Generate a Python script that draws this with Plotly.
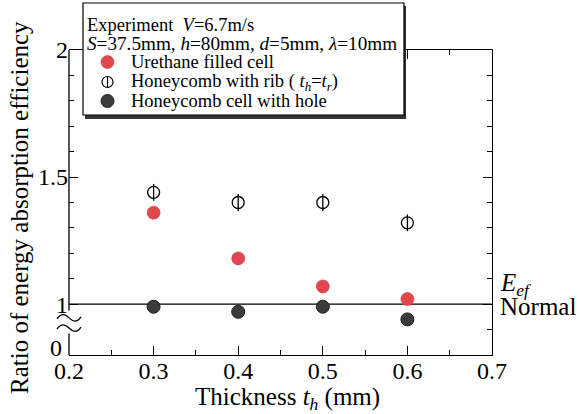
import plotly.graph_objects as go

# ---------------- data ----------------
thickness = [0.3, 0.4, 0.5, 0.6]
urethane = [1.36, 1.18, 1.07, 1.02]
rib = [1.44, 1.40, 1.40, 1.32]
hole = [0.99, 0.97, 0.99, 0.94]

x_ticks = [0.2, 0.3, 0.4, 0.5, 0.6, 0.7]
x_labels = ["0.2", "0.3", "0.4", "0.5", "0.6", "0.7"]
x_minor = [0.25, 0.35, 0.45, 0.55, 0.65]
y_ticks = [1.0, 1.5, 2.0]
y_labels = ["1", "1.5", "2"]
y_minor = [1.1, 1.2, 1.3, 1.4, 1.6, 1.7, 1.8, 1.9]
right_minor = [0.9, 1.1, 1.2, 1.3, 1.4, 1.6, 1.7, 1.8, 1.9]
x_range = [0.2, 0.7]
y_range = [0.8, 2.0]
ref_level = 1.0
break_top = 0.975
break_bottom = 0.885
tilde_levels = [0.946, 0.906]

FONT = "Liberation Serif, Times New Roman, Times, serif"
RED = "#e2474e"
DARK = "#3c3c3c"

# plot area geometry in pixels (for layout-only placement)
L, R, T, B = 69, 492, 50, 355
W, H = 580, 414


def px_x(p):
    return (p - L) / (R - L)


def px_y(p):
    return (B - p) / (B - T)


fig = go.Figure()

fig.add_trace(go.Scatter(
    x=thickness, y=urethane, mode="markers", name="Urethane filled cell",
    marker=dict(symbol="circle", size=13, color=RED, line=dict(width=0.6, color="#c8393f")),
    showlegend=False))
fig.add_trace(go.Scatter(
    x=thickness, y=rib, mode="markers", name="Honeycomb with rib",
    marker=dict(symbol="circle-open", size=12, color="black", line=dict(width=1.3, color="black")),
    showlegend=False))
fig.add_trace(go.Scatter(
    x=thickness, y=rib, mode="markers", name="rib",
    marker=dict(symbol="line-ns-open", size=12, color="black", line=dict(width=1.3, color="black")),
    showlegend=False, hoverinfo="skip"))
fig.add_trace(go.Scatter(
    x=thickness, y=hole, mode="markers", name="Honeycomb cell with hole",
    marker=dict(symbol="circle", size=13, color=DARK, line=dict(width=1, color="#1e1e1e")),
    showlegend=False))
# empty trace to attach the right axis
fig.add_trace(go.Scatter(x=[], y=[], yaxis="y2", showlegend=False, hoverinfo="skip"))

shapes = []
# reference line E_ef
shapes.append(dict(type="line", xref="paper", x0=0, x1=1, yref="y", y0=ref_level, y1=ref_level,
                   line=dict(color="black", width=1.3), layer="below"))
# broken left axis
shapes.append(dict(type="line", xref="paper", x0=0, x1=0, yref="y", y0=y_range[1], y1=break_top,
                   line=dict(color="black", width=1.3), layer="above"))
shapes.append(dict(type="line", xref="paper", x0=0, x1=0, yref="y", y0=break_bottom, y1=y_range[0],
                   line=dict(color="black", width=1.3), layer="above"))
for lv in tilde_levels:
    shapes.append(dict(type="path", xref="paper", xsizemode="pixel", xanchor=0,
                       yref="y", ysizemode="pixel", yanchor=lv,
                       path="M -12 -1 C -8 5, -4 4, 0 0 C 4 -4, 8 -5, 12 1",
                       line=dict(color="black", width=1.3), layer="above"))

# legend box with shadow
bx0, bx1, by0, by1 = 83, 404, 3, 115
shapes.append(dict(type="rect", xref="paper", yref="paper",
                   x0=px_x(bx0 + 2), x1=px_x(bx1 + 2), y0=px_y(by1 + 4), y1=px_y(by0 + 3),
                   fillcolor="#333333", line=dict(width=0), layer="above"))
shapes.append(dict(type="rect", xref="paper", yref="paper",
                   x0=px_x(bx0), x1=px_x(bx1), y0=px_y(by1), y1=px_y(by0),
                   fillcolor="white", line=dict(color="black", width=1.2), layer="above"))

mx = px_x(107.5)
leg_rows = [62, 82, 101]


def circle(xa, ya, r, fill, lc, lw):
    return dict(type="circle", xref="paper", xsizemode="pixel", xanchor=xa, x0=-r, x1=r,
                yref="paper", ysizemode="pixel", yanchor=ya, y0=-r, y1=r,
                fillcolor=fill, line=dict(color=lc, width=lw), layer="above")


shapes.append(circle(mx, px_y(leg_rows[0]), 6.5, RED, "#c8393f", 0.6))
shapes.append(circle(mx, px_y(leg_rows[1]), 5.5, "white", "black", 1.2))
shapes.append(dict(type="line", xref="paper", xsizemode="pixel", xanchor=mx, x0=0, x1=0,
                   yref="paper", ysizemode="pixel", yanchor=px_y(leg_rows[1]), y0=-5.5, y1=5.5,
                   line=dict(color="black", width=1.2), layer="above"))
shapes.append(circle(mx, px_y(leg_rows[2]), 6.5, DARK, "#1e1e1e", 1))

LF = 18.5
annotations = []


def txt(x, y, s, size=LF, xanchor="left", **kw):
    annotations.append(dict(x=x, y=y, xref="paper", yref="paper", text=s, showarrow=False,
                            xanchor=xanchor, yanchor="middle",
                            font=dict(family=FONT, size=size, color="black"), **kw))


txt(px_x(85), px_y(25), "Experiment  <i>V</i>=6.7m/s")
txt(px_x(85), px_y(43), "<i>S</i>=37.5mm, <i>h</i>=80mm, <i>d</i>=5mm, <i>λ</i>=10mm", size=19.2)
txt(px_x(129), px_y(leg_rows[0]), "Urethane filled cell")
txt(px_x(129), px_y(leg_rows[1]), "Honeycomb with rib ( <i>t<sub>h</sub></i>=<i>t<sub>r</sub></i>)")
txt(px_x(129), px_y(leg_rows[2]), "Honeycomb cell with hole")

# right-side labels
txt(px_x(498), px_y(284), "<i>E<sub>ef</sub></i>", size=25)
txt(px_x(498), px_y(306), "Normal", size=25)
# lower "0" label of broken axis
txt(px_x(64), px_y(348), "0", size=24, xanchor="right")
# axis titles
txt(px_x(287), px_y(398), "Thickness <i>t<sub>h</sub></i> (mm)", size=25, xanchor="center")
txt(px_x(19), px_y(208), "Ratio of energy absorption efficiency", size=25, xanchor="center",
    textangle=-90)

tickfont = dict(family=FONT, size=24, color="black")

fig.update_layout(
    width=W, height=H, autosize=False,
    margin=dict(l=L, r=W - R, t=T, b=H - B, pad=0),
    paper_bgcolor="white", plot_bgcolor="white",
    shapes=shapes, annotations=annotations,
    xaxis=dict(range=x_range, tickmode="array", tickvals=x_ticks, ticktext=x_labels,
               ticks="inside", ticklen=9, tickwidth=1.2, tickcolor="black",
               showline=True, linecolor="black", linewidth=1.3, mirror="ticks",
               showgrid=False, zeroline=False, tickfont=tickfont, ticklabelstandoff=-6,
               minor=dict(tickmode="array", tickvals=x_minor, ticks="inside", ticklen=5,
                          tickwidth=1.2, tickcolor="black")),
    yaxis=dict(range=y_range, tickmode="array", tickvals=y_ticks, ticktext=y_labels,
               ticks="inside", ticklen=9, tickwidth=1.2, tickcolor="black",
               showline=False, showgrid=False, zeroline=False, tickfont=tickfont,
               minor=dict(tickmode="array", tickvals=y_minor, ticks="inside", ticklen=5,
                          tickwidth=1.2, tickcolor="black")),
    yaxis2=dict(range=y_range, overlaying="y", side="right", tickmode="array",
                tickvals=y_ticks, showticklabels=False,
                ticks="inside", ticklen=9, tickwidth=1.2, tickcolor="black",
                showline=True, linecolor="black", linewidth=1.3,
                showgrid=False, zeroline=False,
                minor=dict(tickmode="array", tickvals=right_minor, ticks="inside", ticklen=5,
                           tickwidth=1.2, tickcolor="black")),
)

fig.write_html("out.html")
